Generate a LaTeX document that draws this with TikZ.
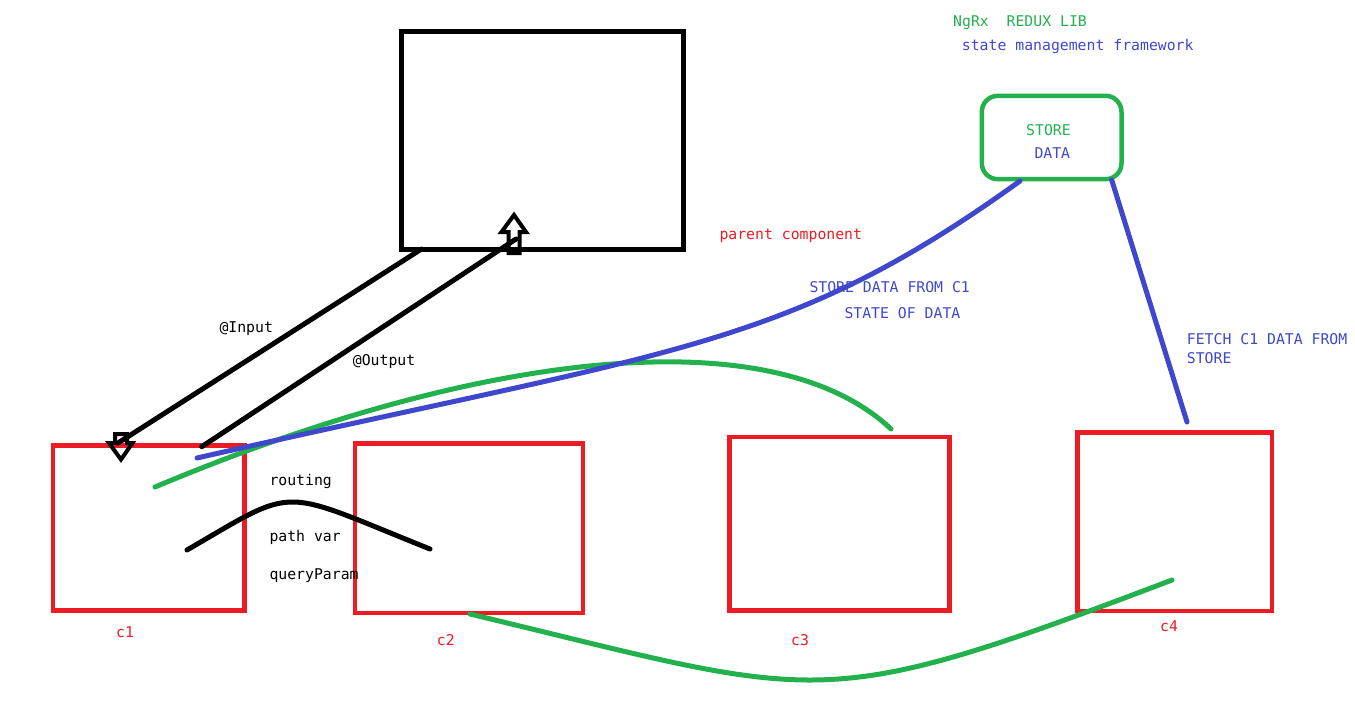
\documentclass[tikz,border=0pt]{standalone}
\usepackage{fontspec}
\newfontfamily\monof{DejaVu Sans Mono}
\definecolor{pred}{RGB}{237,28,36}
\definecolor{pgreen}{RGB}{34,177,76}
\definecolor{pblue}{RGB}{63,72,204}
\begin{document}
\begin{tikzpicture}[x=1pt,y=-1pt,
  blackbox/.style={draw=black,line width=5pt,rectangle,inner sep=0pt},
  redbox/.style={draw=pred,line width=4.5pt,rectangle,inner sep=0pt},
  storebox/.style={draw=pgreen,line width=4.5pt,rectangle,rounded corners=16pt,inner sep=0pt},
  lbl/.style={inner sep=0pt,anchor=base west,font=\monof\fontsize{14.8}{17}\selectfont},
  blackline/.style={draw=black,line width=5pt,line cap=round},
  greenline/.style={draw=pgreen,line width=5pt,line cap=round},
  blueline/.style={draw=pblue,line width=5pt,line cap=round},
  hollowhead/.style={draw=black,line width=4pt,line join=miter}]
\useasboundingbox (0,0) rectangle (1355,716);
% boxes
\node[blackbox,minimum width=281.5pt,minimum height=218pt] (parent) at (542.5,140.5) {};
\node[redbox,minimum width=191.7pt,minimum height=165.2pt] (c1) at (148.85,527.9) {};
\node[redbox,minimum width=228pt,minimum height=169.1pt] (c2) at (469,528.25) {};
\node[redbox,minimum width=220.2pt,minimum height=173.7pt] (c3) at (839.6,523.65) {};
\node[redbox,minimum width=194.3pt,minimum height=178.7pt] (c4) at (1174.65,521.85) {};
\node[storebox,minimum width=139.7pt,minimum height=83.4pt] (store) at (1051.65,137.5) {};
% connector end points
\coordinate (inS) at (421.5,249);
\coordinate (inE) at (118,443);
\coordinate (outS) at (201.7,446.7);
\coordinate (outE) at (516,239);
\coordinate (rtS) at (187,550);
\coordinate (rtE) at (430,549);
\coordinate (g1S) at (155,487);
\coordinate (g1E) at (891,429);
\coordinate (g2S) at (470,614);
\coordinate (g2E) at (1172,580);
\coordinate (b1S) at (197,458);
\coordinate (b1E) at (1020,181);
\coordinate (b2S) at (1111.7,180);
\coordinate (b2E) at (1187,422);
% hollow block arrow heads
\draw[hollowhead] (115,434) -- (127,434) -- (127,443) -- (132.5,443) -- (121,459.5) -- (109,443) -- (115,443) -- cycle;
\draw[hollowhead] (514,215) -- (526,232) -- (519.5,232) -- (519.5,253) -- (508.5,253) -- (508.5,232) -- (501.5,232) -- cycle;
% input / output lines
\draw[blackline] (inS) -- (inE);
\draw[blackline] (outS) -- (outE);
% routing curve
\draw[blackline] (rtS) .. controls (299.5,484.7) and (276.5,487.6) .. (rtE);
% green curves
\draw[greenline] (g1S) .. controls (479,351) and (772,317) .. (g1E);
\draw[greenline] (g2S) .. controls (825,699) and (814,716) .. (g2E);
% blue curves
\draw[blueline] (b1S) .. controls (675,349.5) and (786,349.5) .. (b1E);
\draw[blueline] (b2S) -- (b2E);
% texts
\node[lbl,text=pgreen] (t1) at (953,26.7) {NgRx\ \ REDUX LIB};
\node[lbl,text=pblue] (t2) at (961.7,50) {state management framework};
\node[lbl,text=pgreen] (t3) at (1026,135) {STORE};
\node[lbl,text=pblue] (t4) at (1034.3,158.3) {DATA};
\node[lbl,text=pred] (t5) at (719.3,239.3) {parent component};
\node[lbl,text=pblue] (t6) at (809.3,292.3) {STORE DATA FROM C1};
\node[lbl,text=pblue] (t7) at (844.3,318.3) {STATE OF DATA};
\node[lbl,text=pblue] (t8) at (1186.7,344.3) {FETCH C1 DATA FROM};
\node[lbl,text=pblue] (t9) at (1186.7,363.3) {STORE};
\node[lbl] (t10) at (219.3,332.7) {@Input};
\node[lbl] (t11) at (352.7,365.7) {@Output};
\node[lbl] (t12) at (269.3,485) {routing};
\node[lbl] (t13) at (269.3,541.7) {path var};
\node[lbl] (t14) at (269.3,579.3) {queryParam};
\node[lbl,text=pred] (l1) at (116,637.7) {c1};
\node[lbl,text=pred] (l2) at (436.7,645) {c2};
\node[lbl,text=pred] (l3) at (791,645.7) {c3};
\node[lbl,text=pred] (l4) at (1160,631.7) {c4};
\end{tikzpicture}
\end{document}
